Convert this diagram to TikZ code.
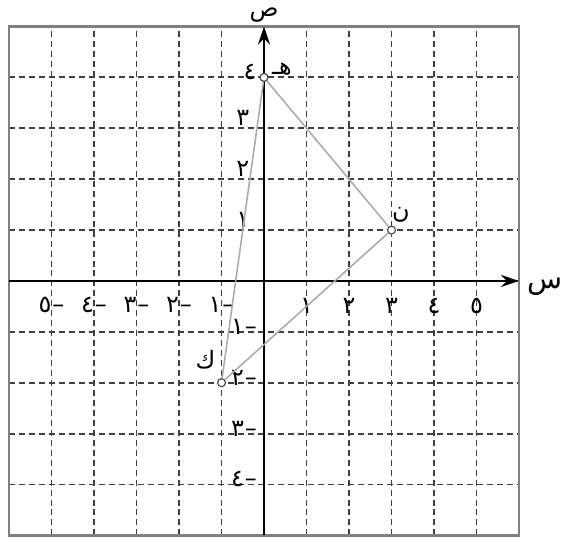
\documentclass[tikz,border=0pt]{standalone}
\usepackage{fontspec}
\usetikzlibrary{arrows.meta}
\newfontfamily\arabicfont[Script=Arabic]{DejaVu Sans}
\TeXXeTstate=1
\newcommand{\ar}[1]{{\arabicfont\beginR #1\endR}}
\newcommand{\negnum}[1]{{\arabicfont #1}\kern0.5pt{\arabicfont –}}
\begin{document}
\begin{tikzpicture}[>={Stealth[length=9pt,width=6pt]},x=0.75cm,y=0.898cm,
  grd/.style={densely dashed,black!75,line width=0.9pt},
  frm/.style={gray,line width=1.2pt},
  axis/.style={->,black,line width=1.3pt},
  tri/.style={gray!65,line width=0.8pt},
  pt/.style={circle,draw=black!70,fill=white,line width=0.6pt,inner sep=0pt,minimum size=4pt},
  tick/.style={font=\fontsize{12}{14}\selectfont,inner sep=0pt},
  lbl/.style={font=\fontsize{12}{14}\selectfont,inner sep=0pt}]
\useasboundingbox (-6.212,-5.128) rectangle (7.082,5.521);

\foreach \i in {-5,...,5} \draw[grd] (\i,-5) -- (\i,5);
\foreach \j in {-4,...,4} \draw[grd] (-6,\j) -- (6,\j);
\draw[frm] (-6,-5) rectangle (6,5);

\coordinate (xl) at (-6,0);
\coordinate (xr) at (6,0);
\coordinate (yb) at (0,-5);
\coordinate (yt) at (0,5);
\draw[axis] (xl) -- (xr);
\draw[axis] (yb) -- (yt);
\node[font=\Large,inner sep=0pt] (sx) at (6.62,-0.12) {\ar{س}};
\node[font=\large,inner sep=0pt] (sy) at (0,5.22) {\ar{ص}};

\foreach \i/\t in {1/١,2/٢,3/٣,4/٤,5/٥} {
  \node[tick] (px\i) at (\i,-0.5) {\ar{\t}};
  \node[tick] (nx\i) at (-\i,-0.47) {\negnum{\t}};
}
\foreach \j/\t in {1/١,2/٢,3/٣} \node[tick] (py\j) at (-0.5,\j+0.2) {\ar{\t}};
\node[tick] (py4) at (-0.33,4.1) {\ar{٤}};
\foreach \j/\t in {1/١,2/٢,3/٣,4/٤} \node[tick] (ny\j) at (-0.47,-\j+0.1) {\negnum{\t}};

\node[pt] (h) at (0,4) {};
\node[pt] (n) at (3,1) {};
\node[pt] (k) at (-1,-2) {};
\draw[tri] (h) -- (n) -- (k) -- (h);

\node[lbl] (hl) at (0.42,4.17) {\ar{هـ}};
\node[lbl] (nl) at (3.22,1.3) {\ar{ن}};
\node[lbl] (kl) at (-1.38,-1.55) {\ar{ك}};
\end{tikzpicture}
\end{document}
